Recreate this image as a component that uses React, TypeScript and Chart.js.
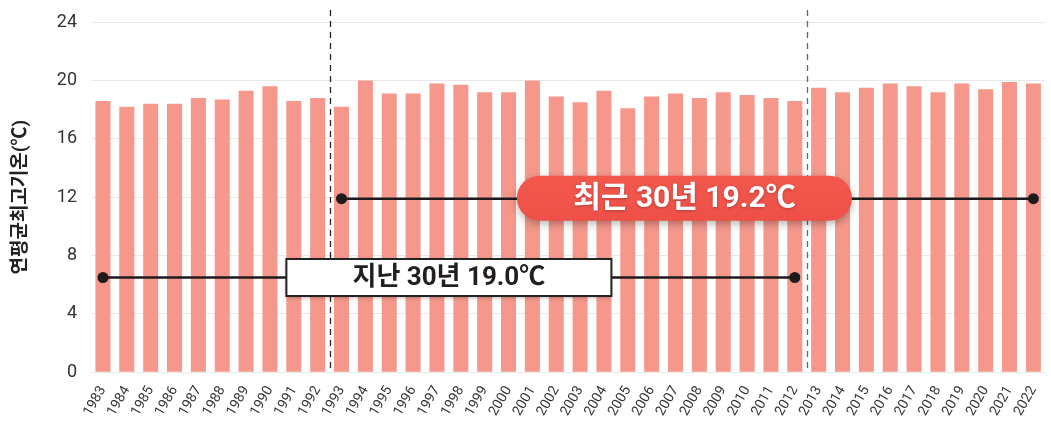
import { useEffect, useRef } from "react";
import { Chart, registerables } from "chart.js";

Chart.register(...registerables);

const years = [
  "1983", "1984", "1985", "1986", "1987", "1988", "1989", "1990", "1991", "1992",
  "1993", "1994", "1995", "1996", "1997", "1998", "1999", "2000", "2001", "2002",
  "2003", "2004", "2005", "2006", "2007", "2008", "2009", "2010", "2011", "2012",
  "2013", "2014", "2015", "2016", "2017", "2018", "2019", "2020", "2021", "2022",
];

const maxTemps = [
  18.6, 18.2, 18.4, 18.4, 18.8, 18.7, 19.3, 19.6, 18.6, 18.8,
  18.2, 20.0, 19.1, 19.1, 19.8, 19.7, 19.2, 19.2, 20.0, 18.9,
  18.5, 19.3, 18.1, 18.9, 19.1, 18.8, 19.2, 19.0, 18.8, 18.6,
  19.5, 19.2, 19.5, 19.8, 19.6, 19.2, 19.8, 19.4, 19.9, 19.8,
];

const yTickValues = [0, 4, 8, 12, 16, 20, 24];
const yAxisTitle = "연평균최고기온(℃)";

const pastLabel = "지난 30년 19.0℃";
const pastRange = ["1983", "2012"];
const pastLevel = 6.5;

const recentLabel = "최근 30년 19.2℃";
const recentRange = ["1993", "2022"];
const recentLevel = 11.9;

const dividerAfter = ["1992", "2012"];

const rangeData = (range: string[], level: number) =>
  years.map((y) => (y === range[0] || y === range[1] ? level : null));

const FONT = "Roboto, 'Noto Sans CJK KR', sans-serif";

export default function App() {
  const ref = useRef<HTMLCanvasElement | null>(null);

  useEffect(() => {
    if (!ref.current) return;

    const overlay = {
      id: "overlay",
      afterDatasetsDraw(chart: any) {
        const { ctx, chartArea, scales } = chart;
        const x = scales.x;
        const y = scales.y;
        ctx.save();
        // dashed dividers
        dividerAfter.forEach((yr, k) => {
          const i = years.indexOf(yr);
          const px = (x.getPixelForValue(i) + x.getPixelForValue(i + 1)) / 2;
          ctx.beginPath();
          ctx.setLineDash([6, 5]);
          ctx.lineWidth = 1.3;
          ctx.strokeStyle = k === 0 ? "#222" : "#666";
          ctx.moveTo(Math.round(px) + 0.5, chartArea.top - 12);
          ctx.lineTo(Math.round(px) + 0.5, chartArea.bottom);
          ctx.stroke();
        });
        ctx.setLineDash([]);

        // past label box
        {
          const i0 = years.indexOf(pastRange[0]);
          const i1 = years.indexOf(pastRange[1]);
          const cx = (x.getPixelForValue(i0) + x.getPixelForValue(i1)) / 2;
          const cy = y.getPixelForValue(pastLevel);
          const w = 325, h = 37;
          ctx.save();
          ctx.shadowColor = "rgba(0,0,0,0.25)";
          ctx.shadowBlur = 4;
          ctx.shadowOffsetY = 2;
          ctx.fillStyle = "#fff";
          ctx.fillRect(cx - w / 2, cy - h / 2, w, h);
          ctx.restore();
          ctx.lineWidth = 2;
          ctx.strokeStyle = "#222";
          ctx.strokeRect(cx - w / 2, cy - h / 2, w, h);
          ctx.fillStyle = "#231f20";
          ctx.font = `bold 26px ${FONT}`;
          ctx.textAlign = "center";
          ctx.textBaseline = "middle";
          ctx.fillText(pastLabel, cx, cy + 1);
        }

        // recent label pill
        {
          const i0 = years.indexOf(recentRange[0]);
          const i1 = years.indexOf(recentRange[1]);
          const cx = (x.getPixelForValue(i0) + x.getPixelForValue(i1)) / 2 - 3;
          const cy = y.getPixelForValue(recentLevel) - 0.5;
          const w = 335, h = 45, r = 22.5;
          ctx.save();
          ctx.shadowColor = "rgba(0,0,0,0.3)";
          ctx.shadowBlur = 8;
          ctx.shadowOffsetY = 3;
          ctx.beginPath();
          ctx.roundRect(cx - w / 2, cy - h / 2, w, h, r);
          const g = ctx.createLinearGradient(0, cy - h / 2, 0, cy + h / 2);
          g.addColorStop(0, "#f2584c");
          g.addColorStop(1, "#ee5048");
          ctx.fillStyle = g;
          ctx.fill();
          ctx.restore();
          ctx.save();
          ctx.shadowColor = "rgba(0,0,0,0.25)";
          ctx.shadowBlur = 3;
          ctx.shadowOffsetY = 1;
          ctx.fillStyle = "#fff";
          ctx.font = `bold 30px ${FONT}`;
          ctx.textAlign = "center";
          ctx.textBaseline = "middle";
          ctx.fillText(recentLabel, cx, cy + 1);
          ctx.restore();
        }
        ctx.restore();
      },
    };

    const chart = new Chart(ref.current, {
      type: "bar",
      data: {
        labels: years,
        datasets: [
          {
            type: "line" as const,
            data: rangeData(pastRange, pastLevel),
            spanGaps: true,
            borderColor: "#1f1a1b",
            borderWidth: 2.5,
            pointRadius: 5.5,
            pointBackgroundColor: "#1f1a1b",
            pointBorderWidth: 0,
            order: 0,
          },
          {
            type: "line" as const,
            data: rangeData(recentRange, recentLevel),
            spanGaps: true,
            borderColor: "#1f1a1b",
            borderWidth: 2.5,
            pointRadius: 5.5,
            pointBackgroundColor: "#1f1a1b",
            pointBorderWidth: 0,
            order: 0,
          },
          {
            type: "bar" as const,
            data: maxTemps,
            backgroundColor: "#f5988b",
            barPercentage: 0.63,
            categoryPercentage: 1,
            order: 1,
          },
        ] as any,
      },
      options: {
        animation: false,
        responsive: false,
        maintainAspectRatio: false,
        layout: { padding: { top: 0, right: 2, left: 10, bottom: 0 } },
        plugins: {
          legend: { display: false },
          tooltip: { enabled: false },
        },
        scales: {
          x: {
            grid: { display: false },
            border: { display: false },
            ticks: {
              color: "#333",
              font: { family: FONT, size: 14 },
              minRotation: 60,
              maxRotation: 60,
              autoSkip: false,
              padding: 3,
            },
          },
          y: {
            min: 0,
            max: 24,
            afterBuildTicks(axis: any) {
              axis.ticks = yTickValues.map((v) => ({ value: v }));
            },
            grid: { color: "#e8e8e8", lineWidth: 1, drawTicks: false },
            border: { display: false },
            ticks: {
              color: "#333",
              font: { family: FONT, size: 18, lineHeight: 0.9 },
              padding: 14,
            },
            title: {
              display: true,
              text: yAxisTitle,
              color: "#222",
              font: { family: FONT, size: 19, weight: "bold" },
              padding: { top: 0, bottom: 10 },
            },
          },
        },
      },
      plugins: [overlay],
    });

    return () => chart.destroy();
  }, []);

  return (
    <div style={{ position: "absolute", left: 0, top: 0, width: 1051, height: 422, background: "#fff" }}>
      <canvas ref={ref} width={1051} height={422} style={{ width: 1051, height: 422 }} />
    </div>
  );
}
